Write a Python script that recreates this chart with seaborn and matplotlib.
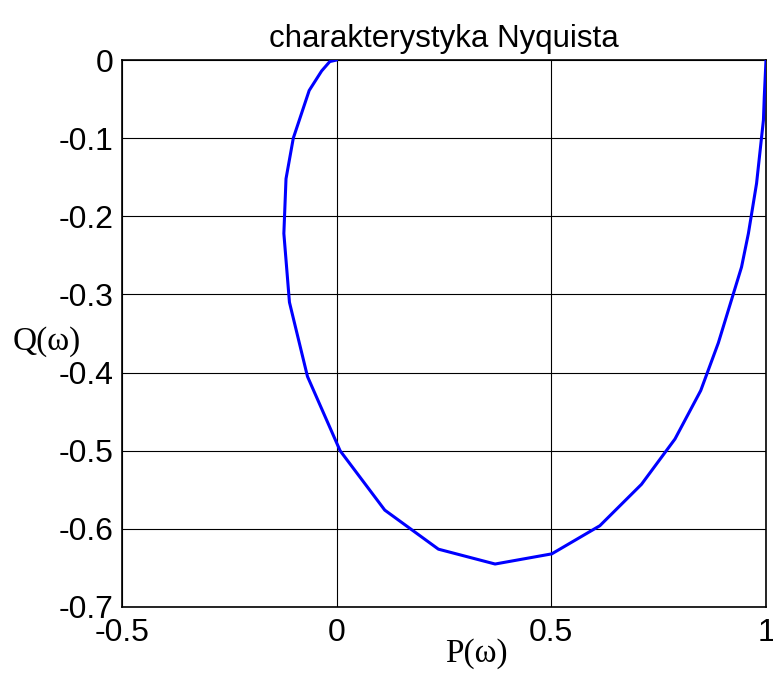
import matplotlib
matplotlib.use("Agg")
import matplotlib.pyplot as plt
import seaborn as sns
import pandas as pd

# Nyquist curve points: real part P(w) and imaginary part Q(w)
P = [1.0, 0.996, 0.994, 0.978, 0.959, 0.943, 0.889, 0.848, 0.788, 0.710,
     0.613, 0.501, 0.369, 0.237, 0.112, 0.008, -0.068, -0.110, -0.123,
     -0.118, -0.101, -0.064, -0.035, -0.016, 0.0]
Q = [0.0, -0.047, -0.077, -0.158, -0.222, -0.265, -0.362, -0.423, -0.485,
     -0.543, -0.596, -0.632, -0.645, -0.626, -0.576, -0.500, -0.405, -0.310,
     -0.222, -0.152, -0.100, -0.039, -0.014, -0.002, 0.0]

x_ticks = [-0.5, 0, 0.5, 1]
x_tick_labels = ["-0.5", "0", "0.5", "1"]
y_ticks = [0, -0.1, -0.2, -0.3, -0.4, -0.5, -0.6, -0.7]
y_tick_labels = ["0", "-0.1", "-0.2", "-0.3", "-0.4", "-0.5", "-0.6", "-0.7"]

sns.set_style("white")
plt.rcParams["font.family"] = ["Liberation Sans", "DejaVu Sans"]
plt.rcParams["text.color"] = "black"

df = pd.DataFrame({"P": P, "Q": Q})

fig = plt.figure(figsize=(7.73, 6.73), dpi=100)
ax = fig.add_axes([122 / 773, 1 - 607 / 673, (766 - 122) / 773, (607 - 60) / 673])

sns.lineplot(data=df, x="P", y="Q", sort=False, estimator=None,
             color="#0000ff", linewidth=2.2, ax=ax, zorder=3)

ax.set_xlim(-0.5, 1)
ax.set_ylim(-0.7, 0)
ax.set_xticks(x_ticks)
ax.set_xticklabels(x_tick_labels)
ax.set_yticks(y_ticks)
ax.set_yticklabels(y_tick_labels)
ax.tick_params(axis="x", labelsize=23, length=0, pad=8, colors="black")
ax.tick_params(axis="y", labelsize=23, length=0, pad=6, colors="black")
ax.grid(True, color="black", linewidth=0.8, linestyle="-")
ax.set_axisbelow(True)
for sp in ax.spines.values():
    sp.set_visible(True)
    sp.set_color("black")
    sp.set_linewidth(1.2)

ax.set_xlabel("")
ax.set_ylabel("")
ax.set_title("charakterystyka Nyquista", fontsize=22.5, pad=9, color="black")

fig.text(476 / 773, 1 - 654 / 673, "P(\u03c9)", family=["Liberation Serif", "DejaVu Serif"],
         fontsize=24, ha="center", va="center", color="black")
fig.text(47 / 773, 1 - 342 / 673, "Q(\u03c9)", family=["Liberation Serif", "DejaVu Serif"],
         fontsize=24, ha="center", va="center", color="black")

fig.savefig("out.png", dpi=100, facecolor="white")
